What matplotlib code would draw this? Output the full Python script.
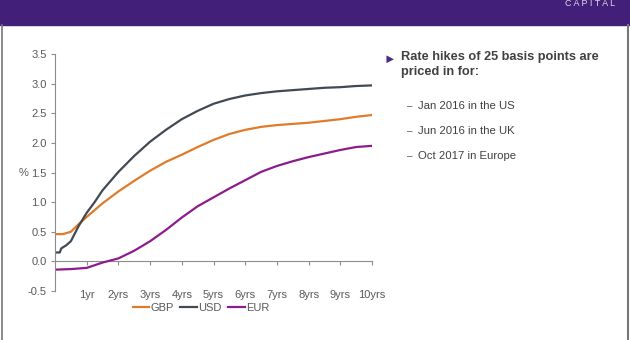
import numpy as np
import matplotlib.pyplot as plt
from matplotlib.patches import Rectangle
from matplotlib.lines import Line2D

plt.rcParams['font.family'] = ['Liberation Sans', 'DejaVu Sans']

# implied policy rate paths (%), by years ahead
gbp_x = [0, 0.25, 0.5, 0.75, 1.0, 1.5, 2.0, 2.5, 3.0, 3.5, 4.0, 4.5, 5.0, 5.5,
         6.0, 6.5, 7.0, 7.5, 8.0, 8.5, 9.0, 9.5, 10]
gbp_y = [0.46, 0.46, 0.50, 0.63, 0.75, 0.98, 1.18, 1.36, 1.53, 1.68, 1.80, 1.93,
         2.05, 2.15, 2.22, 2.27, 2.30, 2.32, 2.34, 2.37, 2.40, 2.44, 2.47]

usd_x = [0, 0.15, 0.2, 0.35, 0.5, 0.75, 1.0, 1.25, 1.5, 2.0, 2.5, 3.0, 3.5, 4.0,
         4.5, 5.0, 5.5, 6.0, 6.5, 7.0, 7.5, 8.0, 8.5, 9.0, 9.5, 10]
usd_y = [0.15, 0.15, 0.22, 0.27, 0.34, 0.60, 0.82, 1.00, 1.20, 1.51, 1.78, 2.02,
         2.22, 2.40, 2.54, 2.66, 2.74, 2.80, 2.84, 2.87, 2.89, 2.91, 2.93, 2.94,
         2.96, 2.97]

eur_x = [0, 0.5, 1.0, 1.5, 2.0, 2.5, 3.0, 3.5, 4.0, 4.5, 5.0, 5.5, 6.0, 6.5, 7.0,
         7.5, 8.0, 8.5, 9.0, 9.5, 10]
eur_y = [-0.14, -0.13, -0.11, -0.02, 0.05, 0.18, 0.34, 0.53, 0.74, 0.93, 1.08,
         1.23, 1.37, 1.51, 1.61, 1.69, 1.76, 1.82, 1.88, 1.93, 1.95]

year_ticks = [1, 2, 3, 4, 5, 6, 7, 8, 9, 10]
year_labels = ['1yr', '2yrs', '3yrs', '4yrs', '5yrs', '6yrs', '7yrs', '8yrs', '9yrs', '10yrs']
pct_ticks = [-0.5, 0.0, 0.5, 1.0, 1.5, 2.0, 2.5, 3.0, 3.5]

bullet_head = 'Rate hikes of 25 basis points are\npriced in for:'
bullet_items = ['Jan 2016 in the US', 'Jun 2016 in the UK', 'Oct 2017 in Europe']

gbp_col = '#E07B2A'
usd_col = '#414A52'
eur_col = '#8C1C8C'
txt_col = '#595959'
purple = '#42207A'

fig = plt.figure(figsize=(6.3, 3.4), dpi=100)

# header band and frame
fig.patches.append(Rectangle((0, 1 - 25/340), 1, 25/340, transform=fig.transFigure,
                             color=purple, zorder=0))
fig.add_artist(Line2D([2/630, 2/630], [0, 1 - 25/340], color='#777777', lw=1.2))
fig.add_artist(Line2D([627.5/630, 627.5/630], [0, 1 - 25/340], color='#777777', lw=1.5))
fig.text(590/630, 1 - 4/340, 'C A P I T A L', color='#DCD6E8', fontsize=6.5,
         ha='center', va='center')

ax = fig.add_axes([55/630, 49/340, 317/630, 237/340])
ax.plot(gbp_x, gbp_y, color=gbp_col, lw=1.6, label='GBP')
ax.plot(usd_x, usd_y, color=usd_col, lw=1.6, label='USD')
ax.plot(eur_x, eur_y, color=eur_col, lw=1.6, label='EUR')

ax.set_xlim(0, 10)
ax.set_ylim(-0.5, 3.5)
ax.set_yticks(pct_ticks)
ax.set_yticklabels(['%.1f' % v for v in pct_ticks])
ax.set_xticks(year_ticks)
ax.set_xticklabels(year_labels)

for s in ['top', 'right', 'bottom']:
    ax.spines[s].set_visible(False)
ax.spines['left'].set_color('#8C8C8C')
ax.tick_params(axis='y', direction='out', length=3, color='#8C8C8C',
               labelsize=8, labelcolor=txt_col, pad=3)
ax.tick_params(axis='x', length=0, labelsize=8, labelcolor=txt_col, pad=-1)

# zero line carries the year tick marks
zero = ax.secondary_xaxis(0.125)
zero.set_xticks(year_ticks)
zero.set_xticklabels([])
zero.spines['bottom'].set_color('#8C8C8C')
zero.tick_params(axis='x', direction='out', length=3, color='#8C8C8C')

ax.text(-0.85, 1.5, '%', color=txt_col, fontsize=8, ha='right', va='center')

fig.legend(loc='center', bbox_to_anchor=(201/630, 1 - 308/340), ncol=3,
           frameon=False, fontsize=8, handlelength=1.5, handletextpad=0.1,
           columnspacing=0.6, labelcolor=txt_col)

# commentary on the right
fig.text(384/630, 1 - 60/340, '\u25BA', color='#4B2A85', fontsize=9, ha='left', va='center')
fig.text(401/630, 1 - 51/340, bullet_head, color='#404040', fontsize=9.2,
         fontweight='bold', ha='left', va='top', linespacing=1.3)
for i, item in enumerate(bullet_items):
    y = 1 - (106 + 25 * i) / 340
    fig.text(407/630, y, '\u2013', color=txt_col, fontsize=7, ha='left', va='center')
    fig.text(418/630, y, item, color='#404040', fontsize=8.2, ha='left', va='center')

fig.savefig('out.png', dpi=100, facecolor='white')
